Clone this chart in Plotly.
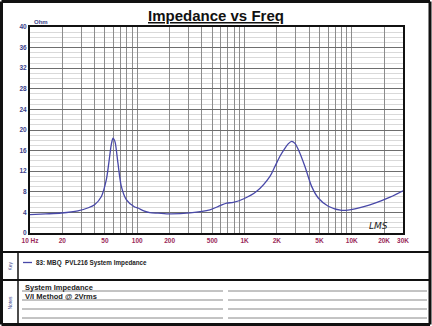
import plotly.graph_objects as go

# ---- data ----
freq_hz = [10, 14, 19.6, 28, 35, 40, 46.3, 51.4, 55.3, 57.3, 59.4, 61, 62.4, 66, 71, 79,
           94.6, 101.6, 115, 131, 156, 202, 310, 476, 590, 681, 786, 973, 1297, 1726,
           1919, 2138, 2350, 2550, 2749, 2950, 3170, 3657, 4220, 4868, 6030, 8035,
           10690, 16420, 23000, 30000]
impedance_ohm = [3.55, 3.7, 3.88, 4.3, 4.9, 5.5, 7.1, 10.3, 14.9, 17.2, 18.4, 18.1, 17.5, 13.6, 9.05, 6.5,
                 5.05, 4.85, 4.3, 3.95, 3.85, 3.7, 3.9, 4.5, 5.3, 5.8, 5.95, 6.6, 8.1, 11.0,
                 12.9, 14.9, 16.3, 17.3, 17.8, 17.4, 16.2, 12.9, 9.05, 6.8, 5.2, 4.4,
                 4.7, 5.8, 7.0, 8.2]
series_name = "83: MBQ  PVL216 System Impedance"

x_grid_vals = [10, 20, 30, 40, 50, 60, 70, 80, 90, 100, 200, 300, 400, 500, 600, 700, 800, 900,
               1000, 2000, 3000, 4000, 5000, 6000, 7000, 8000, 9000, 10000, 20000, 30000]
x_tick_labels = {10: "10 Hz", 20: "20", 50: "50", 100: "100", 200: "200", 500: "500",
                 1000: "1K", 2000: "2K", 5000: "5K", 10000: "10K", 20000: "20K", 30000: "30K"}
y_tick_vals = [0, 4, 8, 12, 16, 20, 24, 28, 32, 36, 40]

title_text = "Impedance vs Freq"
notes_lines = ["System Impedance", "V/I Method @ 2Vrms"]

# ---- layout helpers (pixel -> paper) ----
W, H = 432, 326
L, R, T, B = 30, 403, 27, 233
PW, PH = R - L, B - T


def px(x):
    return (x - L) / PW


def py(y):
    return (B - y) / PH


fig = go.Figure()
fig.add_trace(go.Scatter(x=freq_hz, y=impedance_ohm, mode="lines", name=series_name,
                         line=dict(color="#4848a8", width=1.3, shape="spline", smoothing=0.8),
                         showlegend=False))

shapes = []


def line(x0, y0, x1, y1, color="#111", width=2):
    shapes.append(dict(type="line", xref="paper", yref="paper", x0=px(x0), y0=py(y0),
                       x1=px(x1), y1=py(y1), line=dict(color=color, width=width)))


# outer frame
line(1.5, 1.5, 430, 1.5, width=3)
line(1.5, 1.5, 1.5, 324.5, width=3)
line(430, 1.5, 430, 324.5, width=3)
line(1.5, 324.5, 430, 324.5, width=3)
# key / notes separators
line(1.5, 252, 430, 252, width=2)
line(1.5, 280, 430, 280, width=2)
line(18, 252, 18, 324.5, width=1.5)
# notes lines
for yy in [291, 300, 309, 318]:
    line(22, yy, 223, yy, color="#888", width=1)
    line(228, yy, 427, yy, color="#888", width=1)
# legend key line
line(23, 262.5, 32, 262.5, color="#4848a8", width=1.3)

annotations = [
    dict(text="<b>" + title_text + "</b>", xref="paper", yref="paper", x=px(216), y=py(15),
         showarrow=False, font=dict(family="Liberation Sans, Arial", size=15, color="#111",
                                    lineposition="under"), xanchor="center", yanchor="middle"),
    dict(text="<b>Ohm</b>", xref="paper", yref="paper", x=px(32), y=py(22), showarrow=False,
         font=dict(family="Liberation Sans, Arial", size=6, color="#3a3f8a"),
         xanchor="left", yanchor="middle"),
    dict(text="<b>" + series_name + "</b>", xref="paper", yref="paper", x=px(34), y=py(262.5),
         showarrow=False, font=dict(family="Liberation Sans, Arial", size=6.3, color="#222"),
         xanchor="left", yanchor="middle"),
    dict(text="Key", xref="paper", yref="paper", x=px(9.5), y=py(266), showarrow=False,
         textangle=-90, font=dict(family="Liberation Sans, Arial", size=5, color="#3a3f8a"),
         xanchor="center", yanchor="middle"),
    dict(text="Notes", xref="paper", yref="paper", x=px(9.5), y=py(303), showarrow=False,
         textangle=-90, font=dict(family="Liberation Sans, Arial", size=5, color="#3a3f8a"),
         xanchor="center", yanchor="middle"),
    dict(text="<i>LMS</i>", xref="paper", yref="paper", x=px(378), y=py(226), showarrow=False,
         font=dict(family="DejaVu Sans", size=9, color="#222"),
         xanchor="center", yanchor="middle"),
]
for i, t in enumerate(notes_lines):
    annotations.append(dict(text="<b>" + t + "</b>", xref="paper", yref="paper", x=px(22.5),
                            y=py(287 + 9 * i), showarrow=False,
                            font=dict(family="Liberation Sans, Arial", size=7.5, color="#222"),
                            xanchor="left", yanchor="middle"))

fig.update_layout(
    width=W, height=H,
    margin=dict(l=L, r=W - R, t=T, b=H - B),
    paper_bgcolor="white", plot_bgcolor="white",
    shapes=shapes, annotations=annotations,
    xaxis=dict(type="log", range=[1, 4.4771], tickmode="array", tickvals=x_grid_vals,
               ticktext=[x_tick_labels.get(v, "") for v in x_grid_vals],
               showgrid=True, gridcolor="#8c8c8c", gridwidth=0.8,
               showline=True, linecolor="#111", linewidth=2, mirror=True,
               ticks="", ticklen=0,
               tickfont=dict(family="Liberation Sans, Arial", size=6.5, color="#9a2a5a", weight="bold"),
               zeroline=False),
    yaxis=dict(range=[0, 40], tickmode="array", tickvals=y_tick_vals,
               showgrid=True, gridcolor="#6e6e6e", gridwidth=0.9,
               minor=dict(dtick=1, showgrid=True, gridcolor="#d9d9d9", gridwidth=0.8),
               showline=True, linecolor="#111", linewidth=2, mirror=True,
               ticks="", ticklen=0,
               tickfont=dict(family="Liberation Sans, Arial", size=6.5, color="#3a3f8a", weight="bold"),
               zeroline=False),
)

fig.write_html("out.html")
